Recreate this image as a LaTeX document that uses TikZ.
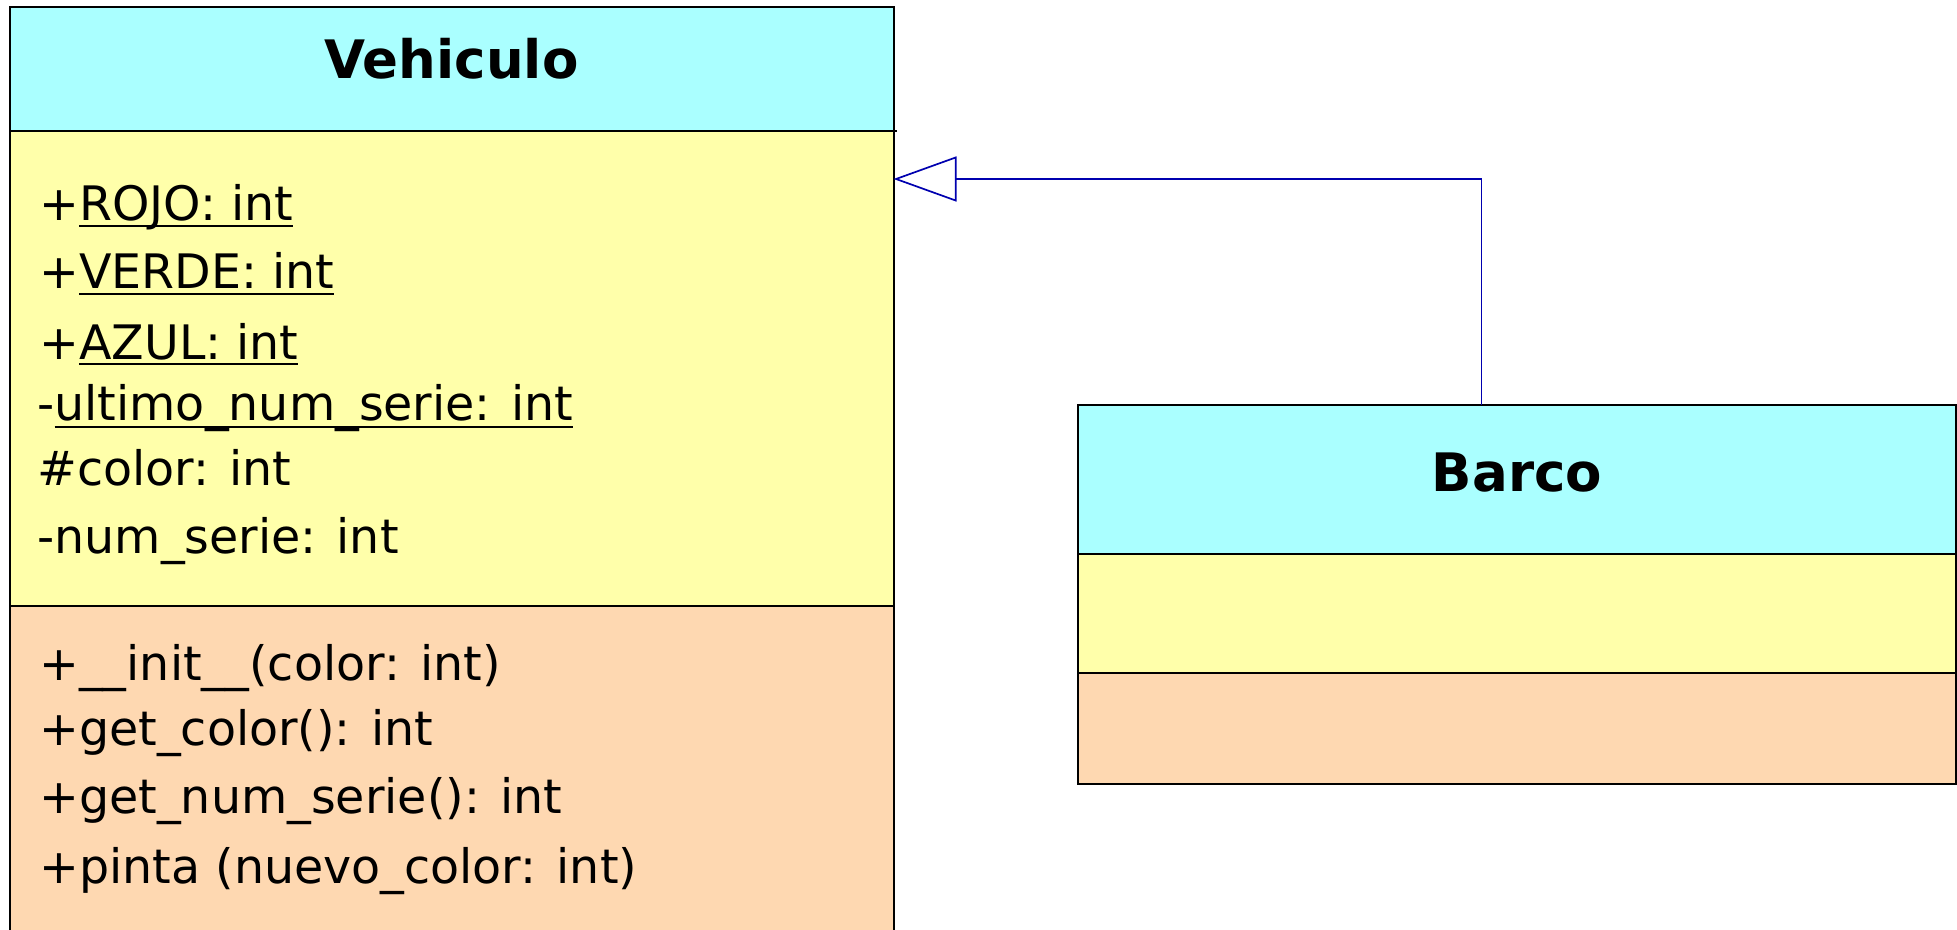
\documentclass[tikz,border=0pt]{standalone}
\usepackage{fontspec}
\setmainfont{DejaVu Sans}
\usetikzlibrary{arrows.meta}
\definecolor{hdrcyan}{HTML}{AAFFFF}
\definecolor{attryel}{HTML}{FFFFAA}
\definecolor{methpeach}{HTML}{FED8B1}
\definecolor{inhblue}{RGB}{0,0,175}
\newcommand{\ulbox}[2]{\setbox0\hbox{#2}\rlap{\rule[#1]{\wd0}{1pt}}\box0}
\tikzset{
  compart/.style={draw=black, line width=1pt, inner sep=0pt, outer sep=0pt, anchor=north west},
  clsname/.style={font=\fontsize{26.5pt}{30pt}\selectfont\bfseries, anchor=base, inner sep=0pt},
  member/.style={font=\fontsize{23.75pt}{28pt}\selectfont, anchor=base west, inner sep=0pt},
  inh/.style={draw=inhblue, line width=0.85pt, -{Triangle[open, length=31.5pt, width=22.5pt]}}
}
\begin{document}
\begin{tikzpicture}[x=0.5pt, y=-0.5pt]
\useasboundingbox (0,0) rectangle (1957,930);
\clip (0,0) rectangle (1957,930);
% Vehiculo
\node[compart, fill=hdrcyan, minimum width=442pt, minimum height=62pt] (vh) at (9.5,7.5) {};
\node[compart, fill=attryel, minimum width=442pt, minimum height=237pt] (va) at (9.5,131.5) {};
\node[compart, fill=methpeach, minimum width=442pt, minimum height=170pt] (vm) at (9.5,605.5) {};
\draw[line width=1pt] (va.north east) -- ++(3,0);
\node[clsname] (vname) at (451.5,79) {Vehiculo};
\node[member] (a1) at (39,221) {+\ulbox{-2.9pt}{ROJO: int}};
\node[member] (a2) at (39,289) {+\ulbox{-2.9pt}{VERDE: int}};
\node[member] (a3) at (39,359) {+\ulbox{-2.9pt}{AZUL: int}};
\node[member] (a4) at (37,420) {-\ulbox{-3.85pt}{ultimo\_num\_serie: int}};
\node[member] (a5) at (37,485) {\#color: int};
\node[member] (a6) at (37,553) {-num\_serie: int};
\node[member] (m1) at (39,680) {+\_\_init\_\_(color: int)};
\node[member] (m2) at (39,745) {+get\_color(): int};
\node[member] (m3) at (39,813) {+get\_num\_serie(): int};
\node[member] (m4) at (39,883) {+pinta (nuevo\_color: int)};
% Barco
\node[compart, fill=hdrcyan, minimum width=439pt, minimum height=74.5pt] (bh) at (1078,405) {};
\node[compart, fill=attryel, minimum width=439pt, minimum height=59.5pt] (ba) at (1078,554) {};
\node[compart, fill=methpeach, minimum width=439pt, minimum height=55.5pt] (bm) at (1078,673) {};
\node[clsname] (bname) at (1517,491) {Barco};
% inheritance
\coordinate (turn) at (1481.5,179);
\draw[inh] (turn |- bh.north) -- (turn) -- (va.east |- turn);
\end{tikzpicture}
\end{document}
